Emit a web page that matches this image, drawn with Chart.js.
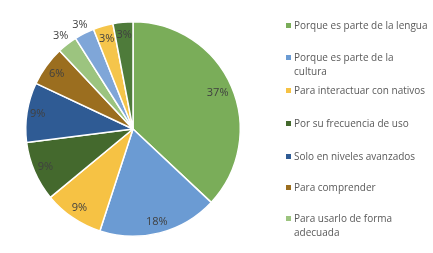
<!DOCTYPE html>
<html>
<head>
<meta charset="utf-8">
<script src="https://cdn.jsdelivr.net/npm/chart.js@4/dist/chart.umd.min.js"></script>
<style>
  html, body { margin: 0; padding: 0; background: #fff; }
  body { width: 433px; height: 253px; position: relative; overflow: hidden; font-family: "Open Sans", sans-serif; }
  #wrap { position: absolute; left: 0; top: 0; width: 266px; height: 253px; }
  #legend { position: absolute; left: 0; top: 0; width: 433px; height: 253px; pointer-events: none; }
  .item { position: absolute; left: 286px; font-size: 10px; line-height: 14px; color: #595959; }
  .item i { position: absolute; left: 0; top: 5px; width: 5px; height: 5px; }
  .item span { display: block; margin-left: 8px; white-space: nowrap; }
</style>
</head>
<body>
<div id="wrap"><canvas id="pie"></canvas></div>
<div id="legend"></div>
<script>
const labels = [
  'Porque es parte de la lengua',
  'Porque es parte de la cultura',
  'Para interactuar con nativos',
  'Por su frecuencia de uso',
  'Solo en niveles avanzados',
  'Para comprender',
  'Para usarlo de forma adecuada',
  'Otro 1',
  'Otro 2',
  'Otro 3'
];
const values = [37, 18, 9, 9, 9, 6, 3, 3, 3, 3];
const colors = ['#7aad59', '#6b9bd3', '#f6c244', '#44692d', '#2f5b94', '#9b6e1f', '#9cc47f', '#7fa6d8', '#f5c54b', '#4e7b3a'];
const shownInLegend = 7;

// radial position of each value label as a fraction of the radius
const labelRadius = [0.86, 0.89, 0.89, 0.89, 0.9, 0.88, 1.1, 1.09, 0.88, 0.88];

const legendLines = [
  ['Porque es parte de la lengua'],
  ['Porque es parte de la', 'cultura'],
  ['Para interactuar con nativos'],
  ['Por su frecuencia de uso'],
  ['Solo en niveles avanzados'],
  ['Para comprender'],
  ['Para usarlo de forma', 'adecuada']
];
const legendTops = [18, 50, 83, 116, 149, 180, 211];

const legend = document.getElementById('legend');
legendLines.slice(0, shownInLegend).forEach((lines, i) => {
  const d = document.createElement('div');
  d.className = 'item';
  d.style.top = legendTops[i] + 'px';
  d.innerHTML = `<i style="background:${colors[i]}"></i><span>${lines.join('<br>')}</span>`;
  legend.appendChild(d);
});

const pieLabels = {
  id: 'pieLabels',
  afterDatasetsDraw(chart) {
    const ctx = chart.ctx;
    const meta = chart.getDatasetMeta(0);
    ctx.save();
    ctx.font = '11px "Open Sans", sans-serif';
    ctx.fillStyle = '#404040';
    ctx.textAlign = 'center';
    ctx.textBaseline = 'middle';
    meta.data.forEach((arc, i) => {
      const p = arc.getProps(['x', 'y', 'startAngle', 'endAngle', 'outerRadius'], true);
      const a = (p.startAngle + p.endAngle) / 2;
      const r = p.outerRadius * labelRadius[i];
      ctx.fillText(values[i] + '%', p.x + Math.cos(a) * r, p.y + Math.sin(a) * r);
    });
    ctx.restore();
  }
};

new Chart(document.getElementById('pie'), {
  type: 'pie',
  data: {
    labels,
    datasets: [{
      data: values,
      backgroundColor: colors,
      borderColor: '#ffffff',
      borderWidth: 1.5
    }]
  },
  options: {
    responsive: true,
    maintainAspectRatio: false,
    animation: false,
    layout: { padding: { top: 21, bottom: 16, left: 0, right: 0 } },
    plugins: {
      legend: { display: false },
      tooltip: { enabled: false }
    }
  },
  plugins: [pieLabels]
});
</script>
</body>
</html>
